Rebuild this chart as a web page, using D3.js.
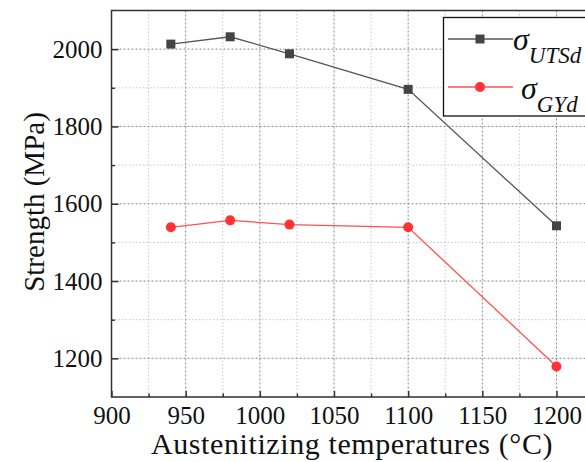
<!DOCTYPE html>
<html><head><meta charset="utf-8">
<script src="https://cdn.jsdelivr.net/npm/d3@7/dist/d3.min.js"></script>
</head>
<body style="margin:0"><svg id="c" width="585" height="462" font-family="Liberation Serif" style="display:block"></svg>
<script>
const temps = [940, 980, 1020, 1100, 1200];
const utsd = [2013, 2032, 1988, 1896, 1543];
const gyd = [1539, 1557, 1546, 1539, 1179];
const xMajor = [900, 950, 1000, 1050, 1100, 1150, 1200];
const xMinor = [925, 975, 1025, 1075, 1125, 1175];
const yMajor = [1200, 1400, 1600, 1800, 2000];
const yMinor = [1100, 1300, 1500, 1700, 1900];
const FF = '"Liberation Serif"';

const svg = d3.select("#c");
const L = 111.5, T = 10.5, B = 397;
const x = d3.scaleLinear().domain([900, 1225]).range([L, L + 1.4833 * 325]);
const y = d3.scaleLinear().domain([1100, 2100]).range([B, T]);
const R = x(1225);

// grid
const g = svg.append("g");
xMinor.forEach(v => g.append("line").attr("x1", x(v)).attr("x2", x(v)).attr("y1", T).attr("y2", B)
  .attr("stroke", "#c8c8c8").attr("stroke-width", 1).attr("stroke-dasharray", "1.5,2"));
yMinor.forEach(v => g.append("line").attr("x1", L).attr("x2", R).attr("y1", y(v)).attr("y2", y(v))
  .attr("stroke", "#c8c8c8").attr("stroke-width", 1).attr("stroke-dasharray", "1.5,2"));
xMajor.forEach(v => g.append("line").attr("x1", x(v)).attr("x2", x(v)).attr("y1", T).attr("y2", B)
  .attr("stroke", "#8a8a8a").attr("stroke-width", 1).attr("stroke-dasharray", "2,2"));
yMajor.forEach(v => g.append("line").attr("x1", L).attr("x2", R).attr("y1", y(v)).attr("y2", y(v))
  .attr("stroke", "#8a8a8a").attr("stroke-width", 1).attr("stroke-dasharray", "2,2"));

// frame
svg.append("rect").attr("x", L).attr("y", T).attr("width", R - L).attr("height", B - T)
  .attr("fill", "none").attr("stroke", "#333").attr("stroke-width", 1.5);

// axes
function styleAxis(sel){ sel.select(".domain").remove(); sel.selectAll("line").attr("stroke","#333").attr("stroke-width",1.5); sel.attr("font-family", "Liberation Serif"); }
const xa = svg.append("g").attr("transform", `translate(0,${B})`)
  .call(d3.axisBottom(x).tickValues(xMajor).tickSize(-6).tickPadding(9).tickFormat(d3.format("d")));
styleAxis(xa);
xa.selectAll("text").attr("font-size", 25).attr("fill", "#111").attr("font-family", "Liberation Serif");
const xm = svg.append("g").attr("transform", `translate(0,${B})`)
  .call(d3.axisBottom(x).tickValues(xMinor).tickSize(-3.5).tickFormat(""));
styleAxis(xm);
const ya = svg.append("g").attr("transform", `translate(${L},0)`)
  .call(d3.axisLeft(y).tickValues(yMajor).tickSize(-7).tickPadding(9).tickFormat(d3.format("d")));
styleAxis(ya);
ya.selectAll("text").attr("font-size", 25).attr("fill", "#111").attr("font-family", "Liberation Serif");
const ym = svg.append("g").attr("transform", `translate(${L},0)`)
  .call(d3.axisLeft(y).tickValues(yMinor.filter(v => v > 1100)).tickSize(-3.5).tickFormat(""));
styleAxis(ym);

// titles
svg.append("text").attr("x", 352).attr("y", 454).attr("text-anchor", "middle")
  .attr("font-size", 30).attr("fill", "#111").attr("font-family", "Liberation Serif").attr("letter-spacing", 0.6)
  .text("Austenitizing temperatures (°C)");
svg.append("text").attr("transform", `translate(44,202) rotate(-90)`).attr("text-anchor", "middle")
  .attr("font-size", 29).attr("fill", "#111").attr("font-family", "Liberation Serif").text("Strength (MPa)");

// series
const line = d3.line().x(d => x(d[0])).y(d => y(d[1]));
const utsPts = temps.map((t, i) => [t, utsd[i]]);
const gyPts = temps.map((t, i) => [t, gyd[i]]);
svg.append("path").datum(utsPts).attr("d", line).attr("fill", "none").attr("stroke", "#555").attr("stroke-width", 1.3);
svg.append("path").datum(gyPts).attr("d", line).attr("fill", "none").attr("stroke", "#ff5050").attr("stroke-width", 1.3);
svg.selectAll(".sq").data(utsPts).enter().append("rect")
  .attr("x", d => x(d[0]) - 4.5).attr("y", d => y(d[1]) - 4.5).attr("width", 9).attr("height", 9).attr("fill", "#444");
svg.selectAll(".ci").data(gyPts).enter().append("circle")
  .attr("cx", d => x(d[0])).attr("cy", d => y(d[1])).attr("r", 5).attr("fill", "#ff3333");

// legend
const lg = svg.append("g");
lg.append("rect").attr("x", 443.5).attr("y", 17.5).attr("width", 160).attr("height", 98.5)
  .attr("fill", "#fff").attr("stroke", "#111").attr("stroke-width", 1.3);
lg.append("line").attr("x1", 448).attr("x2", 513).attr("y1", 39).attr("y2", 39).attr("stroke", "#555").attr("stroke-width", 1.3);
lg.append("rect").attr("x", 480 - 4.5).attr("y", 39 - 4.5).attr("width", 9).attr("height", 9).attr("fill", "#444");
lg.append("line").attr("x1", 448).attr("x2", 513).attr("y1", 87).attr("y2", 87).attr("stroke", "#ff5050").attr("stroke-width", 1.3);
lg.append("circle").attr("cx", 480).attr("cy", 87).attr("r", 5).attr("fill", "#ff3333");
const t1 = lg.append("text").attr("x", 513).attr("y", 50).attr("font-style", "italic").attr("fill", "#111").attr("font-family", "Liberation Serif");
t1.append("tspan").attr("font-size", 32).text("σ");
t1.append("tspan").attr("font-size", 23).attr("dy", 13).text("UTSd");
const t2 = lg.append("text").attr("x", 521).attr("y", 99).attr("font-style", "italic").attr("fill", "#111").attr("font-family", "Liberation Serif");
t2.append("tspan").attr("font-size", 32).text("σ");
t2.append("tspan").attr("font-size", 23).attr("dy", 13).text("GYd");
</script></body></html>
